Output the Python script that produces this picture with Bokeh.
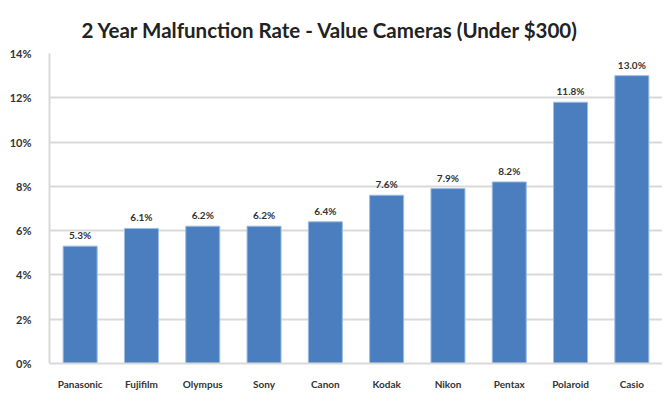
from bokeh.plotting import figure
from bokeh.models import ColumnDataSource, LabelSet, FixedTicker
from bokeh.embed import file_html
from bokeh.resources import INLINE
from bokeh.core.properties import value

brands = ["Panasonic", "Fujifilm", "Olympus", "Sony", "Canon", "Kodak", "Nikon", "Pentax", "Polaroid", "Casio"]
rates = [5.3, 6.1, 6.2, 6.2, 6.4, 7.6, 7.9, 8.2, 11.8, 13.0]
y_ticks = [0, 2, 4, 6, 8, 10, 12, 14]
y_tick_labels = ["0%", "2%", "4%", "6%", "8%", "10%", "12%", "14%"]
title_text = "2 Year Malfunction Rate - Value Cameras (Under $300)"

src = ColumnDataSource(dict(brand=brands, rate=rates, label=["%.1f%%" % r for r in rates]))

p = figure(x_range=brands, y_range=(0, 14), width=662, height=392,
           output_backend="svg", toolbar_location=None,
           min_border_left=49, min_border_right=0, min_border_top=53, min_border_bottom=10)

p.title.text = title_text
p.title.align = "left"
p.title.text_font = "Lato"
p.title.text_font_style = "bold"
p.title.text_font_size = "20.5px"
p.title.text_color = "#222222"
p.title.offset = 32
p.title.standoff = 24

p.vbar(x="brand", top="rate", width=0.555, source=src,
       fill_color="#4a7ebf", line_color="#9dbde3", line_width=1)

labels = LabelSet(x="brand", y="rate", text="label", source=src,
                  text_align="center", y_offset=5,
                  text_font=value("Lato"), text_font_style="bold",
                  text_font_size="10px", text_color="#333333")
p.add_layout(labels)

p.yaxis.ticker = FixedTicker(ticks=y_ticks)
p.yaxis.major_label_overrides = {t: l for t, l in zip(y_ticks, y_tick_labels)}
p.yaxis.major_label_text_font = "Lato"
p.yaxis.major_label_text_font_style = "bold"
p.yaxis.major_label_text_font_size = "11px"
p.yaxis.major_label_text_color = "#333333"
p.yaxis.major_tick_line_color = None
p.yaxis.minor_tick_line_color = None
p.yaxis.axis_line_color = "#d9d9d9"
p.yaxis.axis_line_width = 2
p.yaxis.major_label_standoff = 12

p.xaxis.major_label_text_font = "Lato"
p.xaxis.major_label_text_font_style = "bold"
p.xaxis.major_label_text_font_size = "10px"
p.xaxis.major_label_text_color = "#333333"
p.xaxis.major_tick_line_color = None
p.xaxis.axis_line_color = "#d9d9d9"
p.xaxis.axis_line_width = 2
p.xaxis.major_label_standoff = 8

p.xgrid.grid_line_color = None
p.ygrid.grid_line_color = "#d9d9d9"
p.ygrid.grid_line_width = 2
p.outline_line_color = None

open("out.html", "w").write(file_html(p, INLINE))
